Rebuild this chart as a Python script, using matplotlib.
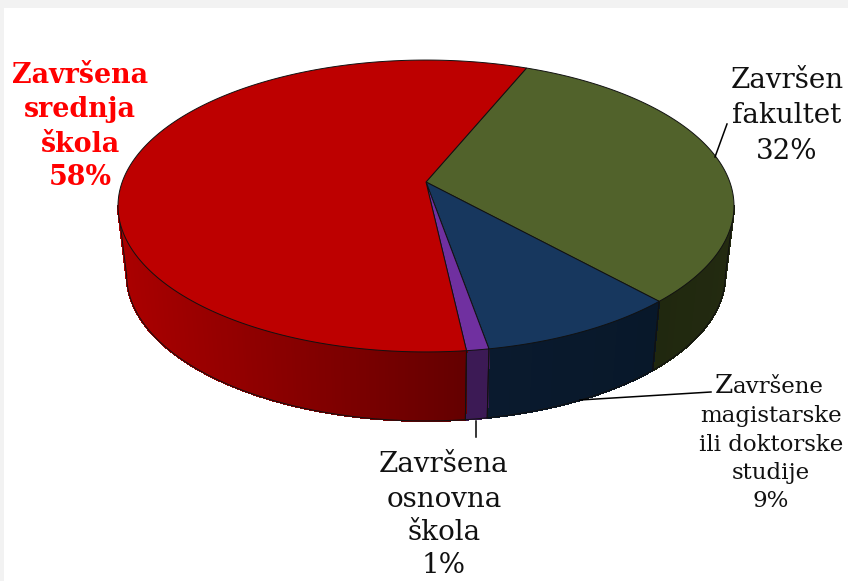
import numpy as np
import matplotlib
matplotlib.use("Agg")
import matplotlib.pyplot as plt
from matplotlib.collections import PolyCollection
from matplotlib.patches import Polygon, Rectangle

# slices, clockwise from the red/green boundary
names = ["Završen fakultet", "Završene magistarske ili doktorske studije", "Završena osnovna škola", "Završena srednja škola"]
shares = [32, 9, 1, 58]
top_colors = ["#51622b", "#17375e", "#7030a0", "#bd0000"]
wall_left = ["#20280f", "#0a1a2e", "#3c1a55", "#aa0000"]
wall_right = ["#232a10", "#08182a", "#3c1a55", "#640000"]

# pie geometry in pixels
START_ANGLE = 22.4
APEX_X, APEX_Y = 426, 182
PERSP = 0.1644
SCALE_X, SCALE_Y = 303.8, 142.0
BOTTOM_Y = 251
BOTTOM_SX = 0.972


def project(angle_deg, bottom=False):
    a = np.radians(angle_deg)
    u, v = np.sin(a), np.cos(a)
    w = 1 + PERSP * v
    x = SCALE_X * u / w
    y = SCALE_Y * v / w
    if bottom:
        return APEX_X + BOTTOM_SX * x, BOTTOM_Y - y
    return APEX_X + x, APEX_Y - y


def lerp_color(c1, c2, f):
    c1 = np.array(matplotlib.colors.to_rgb(c1))
    c2 = np.array(matplotlib.colors.to_rgb(c2))
    return tuple(c1 + (c2 - c1) * f)


fig = plt.figure(figsize=(8.48, 5.81), dpi=100, facecolor="#f2f2f2")
ax = fig.add_axes([0, 0, 1, 1])
ax.set_xlim(0, 848)
ax.set_ylim(581, 0)
ax.axis("off")
ax.add_patch(Rectangle((4, 8), 850, 580, facecolor="white", edgecolor="none", zorder=0))

# slice limits from the shares
edges = START_ANGLE + np.cumsum([0] + shares) * 360 / sum(shares)

# walls first, top faces go over them. only the front part of the wall shows
for i in range(len(shares)):
    t = np.linspace(edges[i], edges[i + 1], 400)
    t = t[np.cos(np.radians(t)) <= -PERSP]
    xt, yt = project(t)
    xb, yb = project(t, bottom=True)
    xmin, xmax = xb.min(), xb.max()
    polys = []
    cols = []
    for k in range(len(t) - 1):
        polys.append([(xt[k], yt[k]), (xt[k + 1], yt[k + 1]), (xb[k + 1], yb[k + 1]), (xb[k], yb[k])])
        f = (xb[k] - xmin) / (xmax - xmin)
        cols.append(lerp_color(wall_left[i], wall_right[i], f))
    ax.add_collection(PolyCollection(polys, facecolors=cols, edgecolors=cols, linewidths=0.8, antialiaseds=False, zorder=2))
    ax.plot(xb, yb, color="#111111", lw=0.7, zorder=3)
    # side line where the wall starts and ends
    for k in [0, -1]:
        ax.plot([xt[k], xb[k]], [yt[k], yb[k]], color="#111111", lw=0.7, zorder=3)

for i in range(len(shares)):
    t = np.linspace(edges[i], edges[i + 1], 300)
    xt, yt = project(t)
    pts = np.column_stack([np.r_[APEX_X, xt], np.r_[APEX_Y, yt]])
    ax.add_patch(Polygon(pts, closed=True, facecolor=top_colors[i], edgecolor="#111111", lw=0.7, zorder=4))

# leader lines
ax.plot([715, 727], [157, 124], color="black", lw=1.1, zorder=5)
ax.plot([580, 711], [400, 392], color="black", lw=1.1, zorder=5)
ax.plot([476, 476], [421, 437], color="black", lw=1.1, zorder=5)

SERIF = "DejaVu Serif"

for txt, yy in zip(["Završen", "fakultet", f"{shares[0]}%"], [88, 123, 159]):
    ax.text(787, yy, txt, family=SERIF, fontsize=20, ha="center", va="baseline", color="#111111")

for txt, yy in zip(["Završena", "osnovna", "škola", f"{shares[2]}%"], [472, 507, 540, 573]):
    ax.text(444, yy, txt, family=SERIF, fontsize=20, ha="center", va="baseline", color="#111111")

for txt, yy in zip(["Završena", "srednja", "škola", f"{shares[3]}%"], [83, 117, 152, 185]):
    ax.text(80, yy, txt, family=SERIF, fontsize=19.4, fontweight="bold", ha="center", va="baseline", color="#ff0000")

ax.text(733, 393, "Z", family=SERIF, fontsize=19, ha="right", va="baseline", color="#111111")
ax.text(733, 393, "avršene", family=SERIF, fontsize=16.5, ha="left", va="baseline", color="#111111")
for txt, yy in zip(["magistarske", "ili doktorske", "studije", f"{shares[1]}%"], [422, 451, 479, 507]):
    ax.text(771, yy, txt, family=SERIF, fontsize=16.5, ha="center", va="baseline", color="#111111")

fig.savefig("out.png", dpi=100, facecolor=fig.get_facecolor())
